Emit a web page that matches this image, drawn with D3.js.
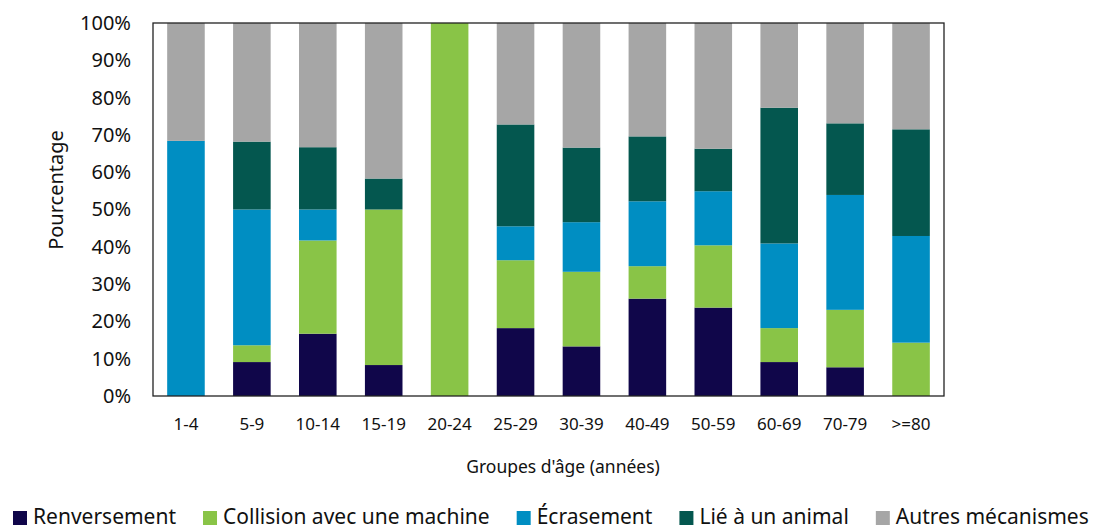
<!DOCTYPE html>
<html>
<head>
<meta charset="utf-8">
<script src="https://cdn.jsdelivr.net/npm/d3@7"></script>
<style>
  body { margin: 0; background: #fff; }
  svg { display: block; font-family: "Noto Sans", sans-serif; }
</style>
</head>
<body>
<div id="chart"></div>
<script>
var categories = ['1-4', '5-9', '10-14', '15-19', '20-24', '25-29', '30-39', '40-49', '50-59', '60-69', '70-79', '>=80'];
var seriesNames = ['Renversement', 'Collision avec une machine', 'Écrasement', 'Lié à un animal', 'Autres mécanismes'];
var seriesColors = ['#10064a', '#89c447', '#008ec2', '#04574f', '#a6a6a6'];

var renversement = [0, 9.1, 16.7, 8.3, 0, 18.2, 13.3, 26.1, 23.7, 9.1, 7.7, 0];
var collision = [0, 4.5, 25.0, 41.7, 100, 18.2, 20.0, 8.7, 16.7, 9.1, 15.4, 14.3];
var ecrasement = [68.4, 36.4, 8.3, 0, 0, 9.1, 13.3, 17.4, 14.5, 22.7, 30.8, 28.6];
var animal = [0, 18.2, 16.7, 8.3, 0, 27.3, 20.0, 17.4, 11.4, 36.4, 19.2, 28.6];
var autres = [31.6, 31.8, 33.3, 41.7, 0, 27.2, 33.4, 30.4, 33.7, 22.7, 26.9, 28.5];

var yTicks = [0, 10, 20, 30, 40, 50, 60, 70, 80, 90, 100];

(function() {
  var width = 1093, height = 529;
  var margin = { top: 23, right: 149, bottom: 133, left: 153 };
  var innerW = width - margin.left - margin.right;
  var innerH = height - margin.top - margin.bottom;

  var svg = d3.select('#chart').append('svg')
    .attr('width', width)
    .attr('height', height);

  var rows = categories.map(function(c, i) {
    return {
      cat: c,
      s0: renversement[i], s1: collision[i], s2: ecrasement[i], s3: animal[i], s4: autres[i]
    };
  });
  var keys = ['s0', 's1', 's2', 's3', 's4'];
  var stacked = d3.stack().keys(keys)(rows);

  var x = d3.scaleBand().domain(categories).range([0, innerW]).paddingInner(0.43).paddingOuter(0.215);
  var y = d3.scaleLinear().domain([0, 100]).range([innerH, 0]);

  var g = svg.append('g').attr('transform', 'translate(' + margin.left + ',' + margin.top + ')');

  g.selectAll('g.series')
    .data(stacked)
    .enter().append('g')
    .attr('class', 'series')
    .attr('fill', function(d, i) { return seriesColors[i]; })
    .selectAll('rect')
    .data(function(d) { return d; })
    .enter().append('rect')
    .attr('x', function(d) { return x(d.data.cat); })
    .attr('width', x.bandwidth())
    .attr('y', function(d) { return y(Math.min(100, d[1])); })
    .attr('height', function(d) { return Math.max(0, y(d[0]) - y(Math.min(100, d[1]))); });

  // frame
  g.append('rect')
    .attr('x', 0).attr('y', 0)
    .attr('width', innerW).attr('height', innerH)
    .attr('fill', 'none')
    .attr('stroke', '#222')
    .attr('stroke-width', 1.3);

  // y axis labels
  var yAxis = d3.axisLeft(y).tickValues(yTicks).tickSize(0).tickPadding(22)
    .tickFormat(function(d) { return d + '%'; });
  var ya = g.append('g').call(yAxis);
  ya.select('.domain').remove();
  ya.selectAll('text').attr('font-size', 20).attr('fill', '#111').attr('font-family', '"Noto Sans", sans-serif');

  // x axis labels
  var xAxis = d3.axisBottom(x).tickSize(0).tickPadding(22);
  var xa = g.append('g').attr('transform', 'translate(0,' + innerH + ')').call(xAxis);
  xa.select('.domain').remove();
  xa.selectAll('text').attr('font-size', 17).attr('fill', '#111').attr('font-family', '"Noto Sans", sans-serif');

  svg.append('text')
    .attr('x', 563).attr('y', 473)
    .attr('text-anchor', 'middle')
    .attr('font-size', 17.5)
    .attr('fill', '#111')
    .text("Groupes d'âge (années)");

  svg.append('text')
    .attr('transform', 'translate(63,190) rotate(-90)')
    .attr('text-anchor', 'middle')
    .attr('font-size', 20)
    .attr('fill', '#111')
    .text('Pourcentage');

  // legend
  var legend = svg.append('g').attr('transform', 'translate(13,0)');
  var lx = 0;
  seriesNames.forEach(function(name, i) {
    var item = legend.append('g').attr('transform', 'translate(' + lx + ',0)');
    item.append('rect')
      .attr('x', 0).attr('y', 511)
      .attr('width', 14).attr('height', 14)
      .attr('fill', seriesColors[i]);
    var t = item.append('text')
      .attr('x', 20).attr('y', 524)
      .attr('font-size', 21)
      .attr('fill', '#111')
      .text(name);
    lx += 20 + t.node().getComputedTextLength() + 27;
  });
})();
</script>
</body>
</html>
